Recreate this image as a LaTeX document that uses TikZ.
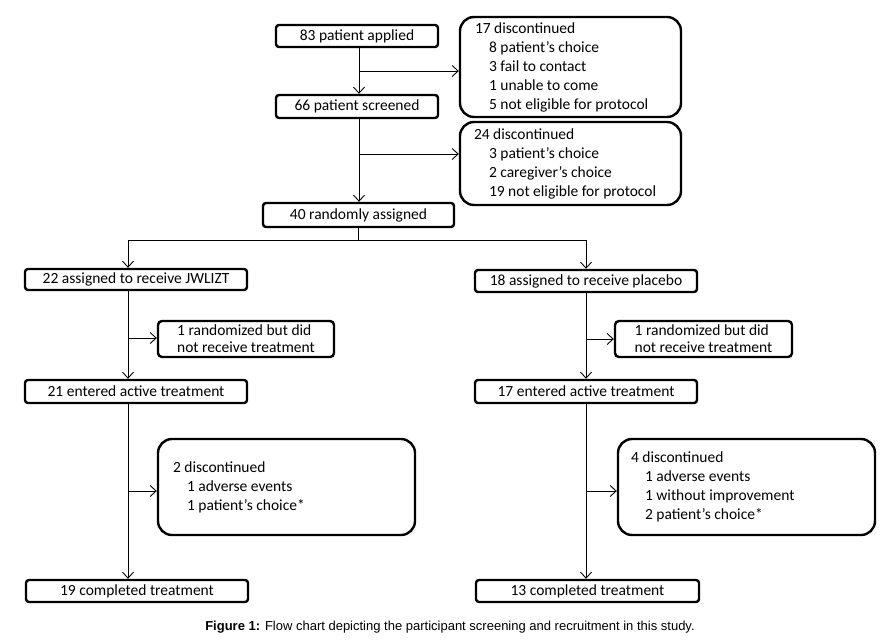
\documentclass[tikz,border=0pt]{standalone}
\usepackage{fontspec}
\setmainfont{Carlito}
\newfontfamily\capfont{Liberation Sans}
\usetikzlibrary{arrows.meta}
\begin{document}
\begin{tikzpicture}[x=1pt,y=-1pt,
  every node/.style={font=\fontsize{15.5}{19}\selectfont},
  sbox/.style={draw, line width=2.4pt, rounded corners=3pt, inner sep=0pt, minimum height=22pt, minimum width=222pt},
  bbox/.style={draw, line width=2.4pt, rounded corners=14pt, align=left, inner ysep=0pt,
    execute at begin node={\spaceskip=0pt\xspaceskip=0pt\relax}},
  rbox/.style={draw, line width=2.4pt, rounded corners=4pt, align=left, inner sep=0pt, minimum width=176pt, minimum height=36pt, font=\fontsize{15.5}{17}\selectfont},
  arr/.style={line width=0.9pt, -{Straight Barb[length=6pt,width=11pt,line width=0.9pt]}},
  ln/.style={line width=0.9pt}]
\useasboundingbox (0,0) rectangle (888,642);

% top column
\node[sbox, minimum width=162pt] (apply) at (357,36) {83 patient applied};
\node[sbox, minimum width=162pt, minimum height=23pt] (screen) at (357,106.5) {66 patient screened};
\node[sbox, minimum width=191pt, minimum height=24pt] (random) at (358.5,215) {40 randomly assigned};

\node[bbox, minimum height=100pt, inner xsep=15pt, text width=191pt] (disc1) at (570.5,67) {17 discontinued\\
\hspace*{14pt}8 patient’s choice\\
\hspace*{14pt}3 fail to contact\\
\hspace*{14pt}1 unable to come\\
\hspace*{14pt}5 not eligible for protocol};
\node[bbox, minimum height=83pt, inner xsep=14pt, text width=193pt] (disc2) at (570.5,163.5) {24 discontinued\\
\hspace*{15pt}3 patient’s choice\\
\hspace*{15pt}2 caregiver’s choice\\
\hspace*{15pt}19 not eligible for protocol};

\coordinate (s0) at (359,0);
\coordinate (b1) at (359,71);
\coordinate (b2) at (359,154);
\draw[arr] (apply.south -| s0) -- (screen.north -| s0);
\draw[arr] (b1) -- (b1 -| disc1.west);
\draw[arr] (screen.south -| s0) -- (random.north -| s0);
\draw[arr] (b2) -- (b2 -| disc2.west);

% arms
\node[sbox, minimum height=21pt] (assignL) at (136,279.5) {22 assigned to receive JWLIZT};
\node[sbox] (assignR) at (586,281) {18 assigned to receive placebo};
\node[rbox] (randL) at (246,339) {1 randomized but did\\not receive treatment};
\node[rbox, minimum width=177pt] (randR) at (703.5,339) {1 randomized but did\\not receive treatment};
\node[sbox, minimum height=23pt] (entL) at (136,391.5) {21 entered active treatment};
\node[sbox, minimum height=23pt] (entR) at (586,391.5) {17 entered active treatment};
\node[bbox, minimum height=96pt, inner xsep=15pt, text width=227pt] (discL) at (286.5,487) {2 discontinued\\
\hspace*{14pt}1 adverse events\\
\hspace*{14pt}1 patient’s choice*};
\node[bbox, minimum height=96pt, inner xsep=13pt, text width=231pt] (discR) at (746.5,487) {4 discontinued\\
\hspace*{14pt}1 adverse events\\
\hspace*{14pt}1 without improvement\\
\hspace*{14pt}2 patient’s choice*};
\node[sbox] (compL) at (137,591) {19 completed treatment};
\node[sbox, minimum width=223pt] (compR) at (587.5,591) {13 completed treatment};

\coordinate (split) at (358.5,240);
\coordinate (sL) at (128,240);
\coordinate (sR) at (586,240);
\draw[ln] (random.south) -- (split);
\draw[arr] (split) -- (sL) -- (sL |- assignL.north);
\draw[arr] (split) -- (sR) -- (sR |- assignR.north);

\coordinate (cL) at (128,338);
\coordinate (cR) at (586,339);
\coordinate (dL) at (128,491);
\coordinate (dR) at (586,491);
\draw[arr] (sL |- assignL.south) -- (sL |- entL.north);
\draw[arr] (cL) -- (cL -| randL.west);
\draw[arr] (sL |- entL.south) -- (sL |- compL.north);
\draw[arr] (dL) -- (dL -| discL.west);
\draw[arr] (sR |- assignR.south) -- (sR |- entR.north);
\draw[arr] (cR) -- (cR -| randR.west);
\draw[arr] (sR |- entR.south) -- (sR |- compR.north);
\draw[arr] (dR) -- (dR -| discR.west);

\node[font=\capfont\fontsize{13}{15}\selectfont] (cap) at (450,627) {\textbf{Figure 1:} Flow chart depicting the participant screening and recruitment in this study.};
\end{tikzpicture}
\end{document}
